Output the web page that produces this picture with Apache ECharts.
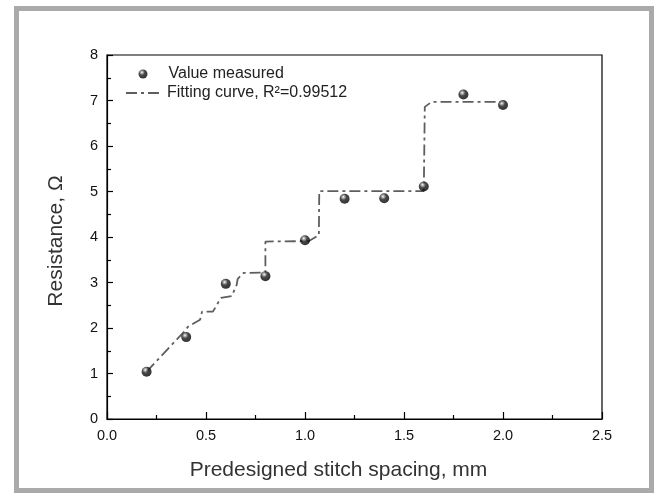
<!DOCTYPE html>
<html>
<head>
<meta charset="utf-8">
<script src="https://cdn.jsdelivr.net/npm/echarts@6/dist/echarts.min.js"></script>
<style>
html,body{margin:0;padding:0;background:#fff;}
#c{width:654px;height:493px;}
</style>
</head>
<body>
<div id="c"></div>
<script>
// Measured points
var spacing = [0.2, 0.4, 0.6, 0.8, 1.0, 1.2, 1.4, 1.6, 1.8, 2.0];
var resistance = [1.04, 1.80, 2.97, 3.14, 3.93, 4.84, 4.85, 5.11, 7.13, 6.90];
// Fitting curve
var fitX = [0.2, 0.385, 0.41, 0.47, 0.48, 0.535, 0.575, 0.63, 0.655, 0.66, 0.69, 0.80, 0.80, 1.02, 1.07, 1.072, 1.60, 1.605, 1.64, 2.0];
var fitY = [1.04, 1.90, 2.03, 2.18, 2.36, 2.36, 2.66, 2.70, 2.95, 3.08, 3.21, 3.22, 3.90, 3.91, 4.04, 5.01, 5.01, 6.86, 6.97, 6.97];
var xTicks = {min: 0, max: 2.5, interval: 0.5};
var yTicks = {min: 0, max: 8, interval: 1};
var nameMeasured = 'Value measured';
var nameFit = 'Fitting curve, R\u00b2=0.99512';
var xTitle = 'Predesigned stitch spacing, mm';
var yTitle = 'Resistance, \u03a9';

var font = '"Liberation Sans", Arial, Helvetica, sans-serif';
var ball = {
  type: 'radial', x: 0.38, y: 0.32, r: 0.7,
  colorStops: [
    {offset: 0, color: '#ffffff'},
    {offset: 0.18, color: '#9a9a9a'},
    {offset: 0.45, color: '#1a1a1a'},
    {offset: 1, color: '#000000'}
  ]
};

var chart = echarts.init(document.getElementById('c'), null, {renderer: 'canvas'});
chart.setOption({
  animation: false,
  backgroundColor: '#fff',
  graphic: [{
    type: 'rect', silent: true,
    shape: {x: 16.5, y: 8.5, width: 635, height: 482},
    style: {fill: 'none', stroke: '#aaaaaa', lineWidth: 5}
  }],
  grid: {left: 107, right: 52, top: 55, bottom: 74, show: true, borderColor: '#000', borderWidth: 1.2, backgroundColor: 'transparent'},
  legend: [{
    data: [nameMeasured], left: 138.5, top: 66, orient: 'vertical',
    itemWidth: 9, itemHeight: 9, padding: 0,
    textStyle: {fontFamily: font, fontSize: 16, color: '#222', padding: [0, 0, 0, 16]}
  }, {
    data: [{name: nameFit, itemStyle: {opacity: 0}}], left: 125, top: 85, orient: 'vertical',
    itemWidth: 36, itemHeight: 14, padding: 0,
    textStyle: {fontFamily: font, fontSize: 16, color: '#222'}
  }],
  xAxis: {
    type: 'value', min: xTicks.min, max: xTicks.max, interval: xTicks.interval,
    name: xTitle, nameLocation: 'middle', nameGap: 41,
    nameTextStyle: {fontFamily: font, fontSize: 21, color: '#333', padding: [0, 32, 0, 0]},
    axisLine: {show: true, onZero: false, lineStyle: {color: '#000', width: 1.2}},
    axisTick: {show: true, inside: true, length: 7, lineStyle: {color: '#000', width: 1.2}},
    minorTick: {show: true, splitNumber: 2, length: 4, lineStyle: {color: '#000', width: 1.2}},
    axisLabel: {fontFamily: font, fontSize: 14.5, color: '#111', margin: 9, formatter: function (v) { return v.toFixed(1); }},
    splitLine: {show: false}
  },
  yAxis: {
    type: 'value', min: yTicks.min, max: yTicks.max, interval: yTicks.interval,
    name: yTitle, nameLocation: 'middle', nameGap: 40, nameRotate: 90,
    nameTextStyle: {fontFamily: font, fontSize: 21, color: '#333', padding: [0, 8, 0, 0]},
    axisLine: {show: true, onZero: false, lineStyle: {color: '#000', width: 1.2}},
    axisTick: {show: true, inside: true, length: 6, lineStyle: {color: '#000', width: 1.2}},
    minorTick: {show: true, splitNumber: 2, length: 4, lineStyle: {color: '#000', width: 1.2}},
    axisLabel: {fontFamily: font, fontSize: 14.5, color: '#111', margin: 9},
    splitLine: {show: false}
  },
  series: [{
    name: nameFit, type: 'line', z: 2,
    data: fitX.map(function (x, i) { return [x, fitY[i]]; }),
    symbol: 'none', showSymbol: false,
    lineStyle: {color: '#5e5e5e', width: 1.8, type: [11, 4, 3, 4]},
    itemStyle: {color: 'rgba(0,0,0,0)', opacity: 0}
  }, {
    name: nameMeasured, type: 'scatter', z: 3,
    data: spacing.map(function (x, i) { return [x, resistance[i]]; }),
    symbol: 'circle', symbolSize: 10,
    itemStyle: {color: ball}
  }]
});
</script>
</body>
</html>
